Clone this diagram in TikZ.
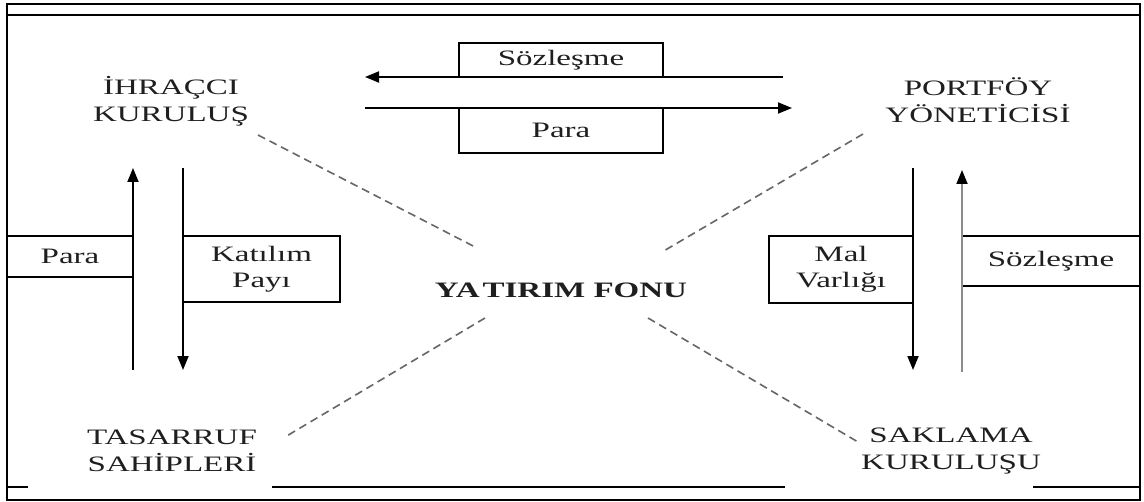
\documentclass[tikz,border=0pt]{standalone}
\usepackage{fontspec}
\setmainfont{Liberation Serif}[FakeStretch=1.5]
\usetikzlibrary{arrows.meta}
\begin{document}
\begin{tikzpicture}[x=0.5pt,y=-0.5pt,
  party/.style={align=center,inner sep=0pt,text=black!88,
    font=\fontsize{11}{13.5}\selectfont},
  flowbox/.style={draw,line width=0.75pt,inner sep=0pt,align=center,text=black!88,
    font=\fontsize{11}{13}\selectfont},
  flow/.style={line width=0.9pt,-{Triangle[length=7pt,width=5.5pt]}},
  link/.style={draw=black!60,line width=0.8pt,dash pattern=on 4pt off 2.5pt}]
\useasboundingbox (0,0) rectangle (1144,502);
\fill[white] (0,0) rectangle (1144,502);

% frame
\draw[line width=1.4pt] (7,4) rectangle (1140,500);
\draw[line width=0.8pt] (7,15) -- (1140,15);
\draw[line width=0.8pt] (7,487) -- (28,487) (272,487) -- (785,487) (1033,487) -- (1140,487);

% parties
\node[party] (ihr) at (171,101) {İHRAÇCI\\KURULUŞ};
\node[party] (pys) at (978,100) {PORTFÖY\\YÖNETİCİSİ};
\node[party] (tas) at (172,451) {TASARRUF\\SAHİPLERİ};
\node[party] (sak) at (951,451) {SAKLAMA\\KURULUŞU};
\node[party,font=\fontsize{11}{13.5}\selectfont\bfseries] (fon) at (561,290) {YA\kern1.5pt TIRIM FONU};

% labelled boxes
\node[flowbox,minimum width=102pt,minimum height=17pt] (bsoz) at (561,60) {Sözleşme};
\node[flowbox,minimum width=102pt,minimum height=22.5pt] (bpara) at (561,130.5) {Para};
\node[flowbox,minimum width=63pt,minimum height=20.5pt] (lpara) at (70,256.5) {Para};
\node[flowbox,minimum width=78.5pt,minimum height=33pt] (lkat) at (261.5,269) {Katılım\\Payı};
\node[flowbox,minimum width=72pt,minimum height=33.5pt] (rmal) at (841,269.5) {Mal\\Varlığı};
\node[flowbox,minimum width=89pt,minimum height=25pt] (rsoz) at (1051,261) {Sözleşme};

% arrow end points
\coordinate (t1a) at (783,77);  \coordinate (t1b) at (365,77);
\coordinate (t2a) at (365,108); \coordinate (t2b) at (792,108);
\coordinate (l1a) at (133,370); \coordinate (l1b) at (133,168);
\coordinate (l2a) at (183,168); \coordinate (l2b) at (183,370);
\coordinate (r1a) at (913,168); \coordinate (r1b) at (913,370);
\coordinate (r2a) at (962,372); \coordinate (r2b) at (962,170);

\draw[flow] (t1a) -- (t1b);
\draw[flow] (t2a) -- (t2b);
\draw[flow] (l1a) -- (l1b);
\draw[flow] (l2a) -- (l2b);
\draw[flow] (r1a) -- (r1b);
\draw[flow,draw=black!45,-{Triangle[length=7pt,width=5.5pt,color=black]}] (r2a) -- (r2b);

% dashed links to the fund
\coordinate (d1a) at (258,135); \coordinate (d1b) at (477,248);
\coordinate (d2a) at (863,134); \coordinate (d2b) at (662,252);
\coordinate (d3a) at (485,318); \coordinate (d3b) at (285,437);
\coordinate (d4a) at (648,318); \coordinate (d4b) at (858,442);
\draw[link] (d1a) -- (d1b);
\draw[link] (d2a) -- (d2b);
\draw[link] (d3a) -- (d3b);
\draw[link] (d4a) -- (d4b);
\end{tikzpicture}
\end{document}
